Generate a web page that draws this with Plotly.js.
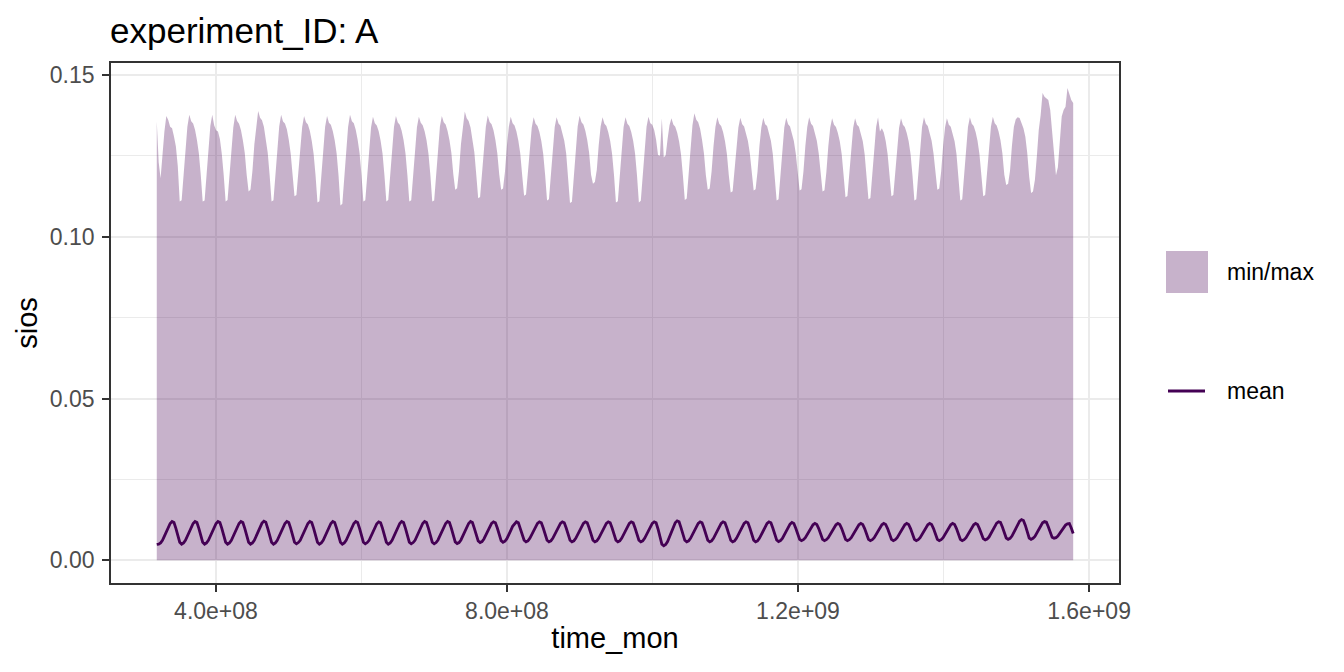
<!DOCTYPE html>
<html>
<head>
<meta charset="utf-8">
<script src="https://cdn.plot.ly/plotly-3.0.1.min.js"></script>
<style>html,body{margin:0;padding:0;background:#fff;}#chart{width:1344px;height:672px;}</style>
</head>
<body>
<div id="chart"></div>
<script>
// ---- data (monthly values, Jan..Dec per row, 1980..2019) ----
const TIME_START = 3.186e8;      // time_mon of first month (s)
const MONTH_STEP = 2.6297e6;     // one month (s)

const maxVals = [
  0.1356,0.1230,0.1181,0.1260,0.1325,0.1373,0.1361,0.1340,0.1335,0.1310,0.1279,0.1217,
  0.1109,0.1113,0.1197,0.1279,0.1340,0.1377,0.1357,0.1350,0.1331,0.1299,0.1258,0.1191,
  0.1109,0.1112,0.1195,0.1281,0.1342,0.1377,0.1345,0.1329,0.1325,0.1302,0.1256,0.1190,
  0.1109,0.1114,0.1199,0.1278,0.1338,0.1377,0.1358,0.1349,0.1330,0.1298,0.1259,0.1192,
  0.1140,0.1146,0.1203,0.1285,0.1348,0.1389,0.1368,0.1360,0.1340,0.1303,0.1260,0.1190,
  0.1109,0.1113,0.1196,0.1280,0.1341,0.1377,0.1356,0.1350,0.1332,0.1300,0.1257,0.1191,
  0.1125,0.1129,0.1199,0.1278,0.1339,0.1373,0.1354,0.1347,0.1328,0.1297,0.1256,0.1189,
  0.1106,0.1110,0.1196,0.1279,0.1340,0.1373,0.1352,0.1346,0.1327,0.1298,0.1258,0.1190,
  0.1097,0.1102,0.1192,0.1277,0.1339,0.1377,0.1357,0.1351,0.1331,0.1300,0.1259,0.1192,
  0.1109,0.1113,0.1197,0.1278,0.1338,0.1371,0.1351,0.1344,0.1326,0.1297,0.1257,0.1190,
  0.1109,0.1114,0.1198,0.1280,0.1340,0.1373,0.1353,0.1346,0.1328,0.1299,0.1258,0.1191,
  0.1109,0.1113,0.1196,0.1279,0.1339,0.1371,0.1352,0.1345,0.1326,0.1298,0.1257,0.1192,
  0.1109,0.1112,0.1197,0.1281,0.1341,0.1373,0.1354,0.1347,0.1327,0.1298,0.1259,0.1193,
  0.1145,0.1150,0.1205,0.1286,0.1347,0.1387,0.1366,0.1358,0.1338,0.1302,0.1261,0.1192,
  0.1119,0.1123,0.1198,0.1279,0.1340,0.1375,0.1355,0.1348,0.1329,0.1299,0.1258,0.1193,
  0.1145,0.1149,0.1201,0.1280,0.1339,0.1371,0.1351,0.1344,0.1325,0.1297,0.1257,0.1190,
  0.1127,0.1131,0.1199,0.1278,0.1338,0.1369,0.1349,0.1342,0.1324,0.1296,0.1256,0.1191,
  0.1112,0.1116,0.1197,0.1279,0.1339,0.1369,0.1350,0.1343,0.1323,0.1297,0.1257,0.1189,
  0.1104,0.1108,0.1195,0.1280,0.1341,0.1374,0.1354,0.1347,0.1328,0.1299,0.1259,0.1192,
  0.1164,0.1169,0.1207,0.1283,0.1341,0.1369,0.1349,0.1342,0.1323,0.1296,0.1256,0.1190,
  0.1106,0.1110,0.1196,0.1279,0.1339,0.1369,0.1349,0.1342,0.1324,0.1297,0.1257,0.1191,
  0.1106,0.1111,0.1197,0.1280,0.1340,0.1371,0.1351,0.1346,0.1330,0.1300,0.1253,0.1250,
  0.1366,0.1245,0.1252,0.1302,0.1345,0.1366,0.1347,0.1340,0.1322,0.1295,0.1256,0.1190,
  0.1114,0.1118,0.1199,0.1283,0.1345,0.1382,0.1362,0.1354,0.1334,0.1300,0.1258,0.1191,
  0.1145,0.1149,0.1202,0.1280,0.1339,0.1369,0.1349,0.1342,0.1324,0.1296,0.1256,0.1190,
  0.1137,0.1141,0.1200,0.1279,0.1338,0.1368,0.1348,0.1341,0.1322,0.1296,0.1257,0.1191,
  0.1143,0.1147,0.1201,0.1280,0.1338,0.1368,0.1348,0.1342,0.1323,0.1297,0.1256,0.1189,
  0.1112,0.1116,0.1197,0.1279,0.1338,0.1368,0.1348,0.1341,0.1322,0.1296,0.1257,0.1190,
  0.1143,0.1147,0.1201,0.1280,0.1339,0.1369,0.1349,0.1342,0.1323,0.1297,0.1257,0.1191,
  0.1140,0.1144,0.1200,0.1279,0.1337,0.1366,0.1346,0.1339,0.1321,0.1295,0.1256,0.1190,
  0.1122,0.1126,0.1198,0.1278,0.1337,0.1366,0.1346,0.1340,0.1321,0.1296,0.1255,0.1189,
  0.1116,0.1120,0.1198,0.1279,0.1339,0.1369,0.1325,0.1335,0.1322,0.1296,0.1256,0.1190,
  0.1125,0.1129,0.1199,0.1278,0.1337,0.1366,0.1346,0.1339,0.1321,0.1295,0.1256,0.1190,
  0.1112,0.1116,0.1197,0.1279,0.1339,0.1369,0.1349,0.1342,0.1323,0.1297,0.1257,0.1191,
  0.1145,0.1149,0.1202,0.1280,0.1338,0.1366,0.1346,0.1340,0.1321,0.1295,0.1256,0.1190,
  0.1112,0.1116,0.1197,0.1280,0.1339,0.1369,0.1349,0.1342,0.1324,0.1297,0.1256,0.1191,
  0.1125,0.1129,0.1199,0.1280,0.1340,0.1371,0.1351,0.1344,0.1325,0.1298,0.1257,0.1192,
  0.1160,0.1164,0.1205,0.1282,0.1340,0.1363,0.1369,0.1367,0.1350,0.1335,0.1309,0.1258,
  0.1186,0.1135,0.1140,0.1176,0.1248,0.1330,0.1376,0.1444,0.1433,0.1428,0.1423,0.1392,
  0.1330,0.1250,0.1190,0.1215,0.1305,0.1372,0.1392,0.1402,0.1460,0.1438,0.1423,0.1413
];

const meanVals = [
  0.0049,0.0050,0.0054,0.0062,0.0075,0.0090,0.0104,0.0114,0.0120,0.0117,0.0099,0.0075,
  0.0056,0.0050,0.0054,0.0062,0.0075,0.0090,0.0104,0.0114,0.0120,0.0117,0.0099,0.0075,
  0.0056,0.0050,0.0054,0.0062,0.0075,0.0090,0.0104,0.0114,0.0120,0.0117,0.0099,0.0075,
  0.0056,0.0050,0.0054,0.0062,0.0075,0.0090,0.0104,0.0114,0.0120,0.0117,0.0099,0.0075,
  0.0056,0.0050,0.0054,0.0062,0.0075,0.0090,0.0104,0.0115,0.0121,0.0118,0.0099,0.0075,
  0.0056,0.0050,0.0054,0.0062,0.0075,0.0090,0.0104,0.0114,0.0120,0.0117,0.0099,0.0075,
  0.0056,0.0051,0.0055,0.0062,0.0075,0.0090,0.0104,0.0114,0.0120,0.0117,0.0099,0.0075,
  0.0056,0.0050,0.0054,0.0062,0.0075,0.0090,0.0104,0.0114,0.0120,0.0117,0.0099,0.0075,
  0.0056,0.0050,0.0054,0.0062,0.0075,0.0090,0.0104,0.0114,0.0120,0.0117,0.0099,0.0075,
  0.0056,0.0051,0.0055,0.0062,0.0075,0.0089,0.0103,0.0113,0.0119,0.0116,0.0099,0.0075,
  0.0056,0.0050,0.0054,0.0062,0.0075,0.0090,0.0104,0.0114,0.0120,0.0117,0.0099,0.0075,
  0.0056,0.0051,0.0055,0.0062,0.0075,0.0090,0.0104,0.0114,0.0120,0.0117,0.0099,0.0075,
  0.0056,0.0051,0.0055,0.0063,0.0076,0.0090,0.0104,0.0114,0.0120,0.0117,0.0099,0.0076,
  0.0057,0.0052,0.0055,0.0063,0.0076,0.0090,0.0104,0.0114,0.0120,0.0117,0.0099,0.0077,
  0.0060,0.0055,0.0058,0.0066,0.0078,0.0091,0.0105,0.0114,0.0119,0.0116,0.0100,0.0078,
  0.0061,0.0056,0.0059,0.0067,0.0078,0.0092,0.0105,0.0114,0.0119,0.0116,0.0100,0.0079,
  0.0062,0.0057,0.0060,0.0068,0.0079,0.0092,0.0105,0.0114,0.0119,0.0116,0.0100,0.0079,
  0.0062,0.0057,0.0060,0.0068,0.0079,0.0092,0.0105,0.0114,0.0119,0.0116,0.0100,0.0079,
  0.0062,0.0057,0.0060,0.0068,0.0079,0.0092,0.0105,0.0114,0.0119,0.0116,0.0100,0.0079,
  0.0062,0.0057,0.0060,0.0068,0.0079,0.0092,0.0105,0.0114,0.0119,0.0116,0.0100,0.0079,
  0.0062,0.0057,0.0060,0.0068,0.0079,0.0092,0.0105,0.0114,0.0119,0.0116,0.0100,0.0079,
  0.0062,0.0057,0.0060,0.0068,0.0079,0.0092,0.0105,0.0114,0.0119,0.0116,0.0097,0.0070,
  0.0050,0.0045,0.0049,0.0058,0.0072,0.0088,0.0104,0.0116,0.0122,0.0119,0.0101,0.0079,
  0.0062,0.0057,0.0060,0.0068,0.0079,0.0092,0.0105,0.0114,0.0119,0.0116,0.0100,0.0079,
  0.0062,0.0057,0.0060,0.0068,0.0079,0.0092,0.0105,0.0114,0.0119,0.0116,0.0100,0.0079,
  0.0062,0.0057,0.0060,0.0068,0.0079,0.0092,0.0105,0.0114,0.0119,0.0116,0.0100,0.0079,
  0.0062,0.0057,0.0060,0.0068,0.0079,0.0092,0.0105,0.0114,0.0119,0.0116,0.0100,0.0079,
  0.0063,0.0058,0.0061,0.0068,0.0079,0.0091,0.0103,0.0112,0.0117,0.0114,0.0099,0.0080,
  0.0065,0.0061,0.0064,0.0070,0.0080,0.0091,0.0102,0.0110,0.0114,0.0111,0.0098,0.0080,
  0.0065,0.0061,0.0064,0.0070,0.0080,0.0091,0.0102,0.0110,0.0114,0.0111,0.0098,0.0080,
  0.0065,0.0061,0.0064,0.0070,0.0080,0.0091,0.0102,0.0110,0.0114,0.0111,0.0098,0.0080,
  0.0065,0.0061,0.0064,0.0070,0.0080,0.0091,0.0102,0.0110,0.0114,0.0111,0.0098,0.0080,
  0.0065,0.0061,0.0064,0.0070,0.0080,0.0091,0.0102,0.0110,0.0114,0.0111,0.0098,0.0080,
  0.0065,0.0061,0.0064,0.0070,0.0080,0.0091,0.0102,0.0110,0.0114,0.0111,0.0098,0.0080,
  0.0065,0.0061,0.0064,0.0070,0.0080,0.0091,0.0102,0.0110,0.0114,0.0111,0.0098,0.0080,
  0.0065,0.0061,0.0064,0.0070,0.0080,0.0091,0.0102,0.0110,0.0114,0.0111,0.0098,0.0081,
  0.0067,0.0063,0.0066,0.0072,0.0083,0.0095,0.0107,0.0115,0.0119,0.0117,0.0103,0.0083,
  0.0069,0.0065,0.0068,0.0075,0.0087,0.0100,0.0112,0.0121,0.0126,0.0123,0.0108,0.0087,
  0.0069,0.0065,0.0068,0.0074,0.0085,0.0097,0.0108,0.0116,0.0120,0.0118,0.0104,0.0085,
  0.0071,0.0068,0.0070,0.0075,0.0083,0.0092,0.0101,0.0109,0.0113,0.0114,0.0100,0.0083
];

const xTickVals = [4e8, 8e8, 1.2e9, 1.6e9];
const xTickText = ["4.0e+08", "8.0e+08", "1.2e+09", "1.6e+09"];
const xMinorVals = [6e8, 1e9, 1.4e9];
const yTickVals = [0, 0.05, 0.10, 0.15];
const yTickText = ["0.00", "0.05", "0.10", "0.15"];
const yMinorVals = [0.025, 0.075, 0.125];
const legendLabels = ["min/max", "mean"];

// ---- styles ----
const FONT = "Liberation Sans, Arial, sans-serif";
const PURPLE = "#440154";
const RIBBON = "rgba(68,1,84,0.3)";
const GRID = "#EBEBEB";
const DARK = "#333333";

const traces = [
  {
    type: "scatter", mode: "lines",
    x0: TIME_START, dx: MONTH_STEP, y: maxVals,
    fill: "tozeroy", fillcolor: RIBBON,
    line: {width: 0, color: RIBBON},
    name: legendLabels[0], showlegend: false, hoverinfo: "skip"
  },
  {
    type: "scatter", mode: "lines",
    x0: TIME_START, dx: MONTH_STEP, y: meanVals,
    line: {width: 2.8, color: PURPLE},
    name: legendLabels[1], showlegend: false
  }
];

const axisCommon = {
  ticks: "outside", ticklen: 7, tickwidth: 2, tickcolor: DARK,
  showline: true, mirror: true, linecolor: DARK, linewidth: 1.8,
  showgrid: true, gridcolor: GRID, gridwidth: 2,
  zeroline: false, automargin: false,
  tickfont: {family: FONT, size: 23, color: "#4D4D4D"},
  layer: "below traces"
};

const layout = {
  width: 1344, height: 672,
  margin: {l: 111, r: 225, t: 63, b: 89, pad: 0},
  paper_bgcolor: "#ffffff", plot_bgcolor: "#ffffff",
  font: {family: FONT, color: "#000000"},
  showlegend: false,
  title: {
    text: "experiment_ID: A",
    font: {family: FONT, size: 35, color: "#000000"},
    xref: "container", x: 110/1344, xanchor: "left",
    yref: "container", y: 1 - 31/672, yanchor: "middle"
  },
  xaxis: Object.assign({}, axisCommon, {
    range: [2.557e8, 1.6412e9],
    tickmode: "array", tickvals: xTickVals, ticktext: xTickText,
    minor: {tickmode: "array", tickvals: xMinorVals, showgrid: true, gridcolor: GRID, gridwidth: 1.1, ticks: ""},
    ticklabelstandoff: 0,
    title: {text: "time_mon", font: {family: FONT, size: 29, color: "#000000"}, standoff: 4}
  }),
  yaxis: Object.assign({}, axisCommon, {
    range: [-0.0070, 0.1537],
    tickmode: "array", tickvals: yTickVals, ticktext: yTickText,
    minor: {tickmode: "array", tickvals: yMinorVals, showgrid: true, gridcolor: GRID, gridwidth: 1.1, ticks: ""},
    ticklabelstandoff: 3,
    title: {text: "sios", font: {family: FONT, size: 29, color: "#000000"}, standoff: 4}
  }),
  shapes: [
    {type: "rect", xref: "paper", yref: "paper",
     x0: (1166-111)/1008, x1: (1208-111)/1008, y0: (583-293)/520, y1: (583-251)/520,
     fillcolor: RIBBON, line: {width: 0}},
    {type: "line", xref: "paper", yref: "paper",
     x0: (1168-111)/1008, x1: (1205-111)/1008, y0: (583-391)/520, y1: (583-391)/520,
     line: {color: PURPLE, width: 2.8}}
  ],
  annotations: [
    {xref: "paper", yref: "paper", x: (1225-111)/1008, y: (583-272)/520,
     xanchor: "left", yanchor: "middle", showarrow: false,
     text: legendLabels[0], font: {family: FONT, size: 23, color: "#000000"}},
    {xref: "paper", yref: "paper", x: (1225-111)/1008, y: (583-391)/520,
     xanchor: "left", yanchor: "middle", showarrow: false,
     text: legendLabels[1], font: {family: FONT, size: 23, color: "#000000"}}
  ]
};

Plotly.newPlot("chart", traces, layout, {displayModeBar: false, staticPlot: true});
</script>
</body>
</html>
